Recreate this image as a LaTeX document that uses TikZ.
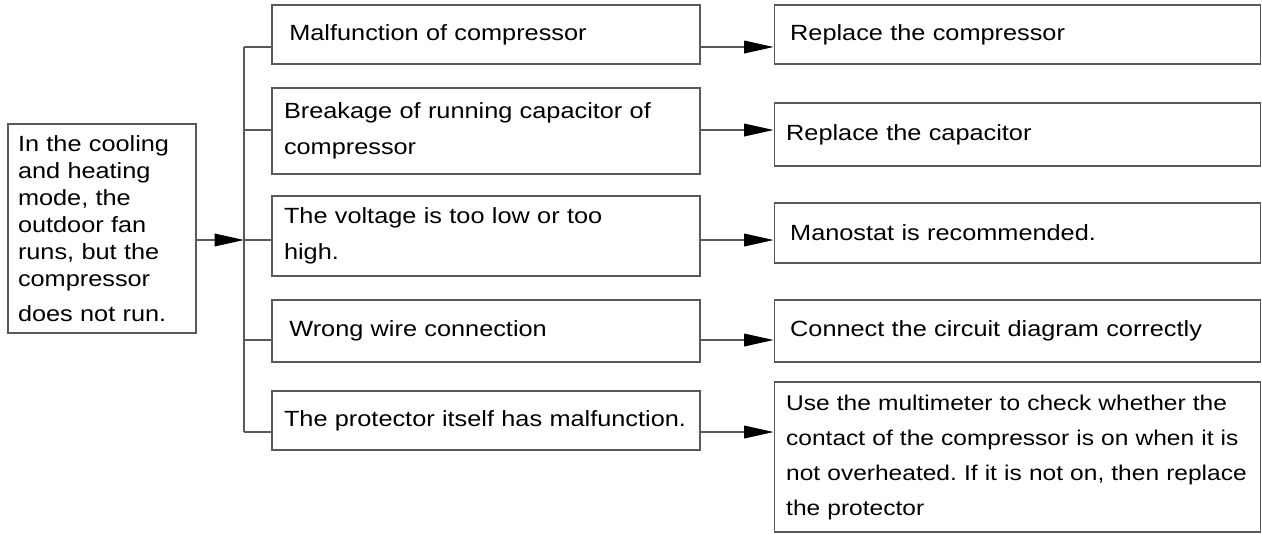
\documentclass[tikz,border=0pt]{standalone}
\usepackage{fontspec}
\setmainfont{Liberation Sans}[FakeStretch=1.15]
\usetikzlibrary{arrows.meta}
\frenchspacing

\begin{document}
\begin{tikzpicture}[
x=0.75pt,y=-0.75pt,
boxnode/.style={
  draw=black!65,
  line width=0.9pt,
  inner xsep=9pt,
  inner ysep=0pt,
  align=left,
  font=\fontsize{16.5}{27}\selectfont
  },
causebox/.style={boxnode,text width=303pt,minimum height=#1},
fixbox/.style={boxnode,text width=347pt,minimum height=#1},
arr/.style={draw=black!65,line width=0.9pt,-{Triangle[length=22pt,width=9.5pt,fill=black,color=black]}}
]
\useasboundingbox (0,0) rectangle (1262,533);
% fault
\node[boxnode,inner xsep=7.5pt,text width=126pt,minimum height=156.75pt,
  font=\fontsize{16.5}{20.25}\selectfont] (fault) at (102,228.5)
  {In the cooling\\and heating\\mode, the\\outdoor fan\\runs, but the\\compressor\\[6pt]does not run.};
% causes
\node[causebox=44.25pt] (m1) at (486,34.5) {\hspace{4pt}Malfunction of compressor};
\node[causebox=64.5pt] (m2) at (486,131) {Breakage of running capacitor of\\compressor};
\node[causebox=60pt] (m3) at (486,236) {The voltage is too low or too\\high.};
\node[causebox=46.5pt] (m4) at (486,331) {\hspace{4pt}Wrong wire connection};
\node[causebox=44.25pt] (m5) at (486,420.5) {The protector itself has malfunction.};
% fixes
\node[fixbox=44.25pt] (r1) at (1017.5,34.5) {\hspace{3pt}Replace the compressor};
\node[fixbox=47.25pt] (r2) at (1017.5,134.5) {Replace the capacitor};
\node[fixbox=45pt] (r3) at (1017.5,233) {\hspace{3pt}Manostat is recommended.};
\node[fixbox=46.5pt] (r4) at (1017.5,331) {\hspace{3pt}Connect the circuit diagram correctly};
\node[fixbox=112.5pt,font=\fontsize{16}{26.25}\selectfont] (r5) at (1017.5,457)
  {\mbox{Use the multimeter to check whether the}\\\mbox{contact of the compressor is on when it is}\\\mbox{not overheated. If it is not on, then replace}\\\mbox{the protector}};
% tree
\coordinate (j) at (244,240);
\draw[arr] (fault.east |- j) -- (j);
\foreach \i/\y in {1/47,2/130,3/240,4/340,5/432}{
  \coordinate (b\i) at (244,\y);
  \draw[draw=black!65,line width=0.9pt] (b\i) -- (m\i.west |- b\i);
  \draw[arr] (m\i.east |- b\i) -- (r\i.west |- b\i);
}
\draw[draw=black!65,line width=0.9pt] (b1) -- (b5);
\end{tikzpicture}
\end{document}
